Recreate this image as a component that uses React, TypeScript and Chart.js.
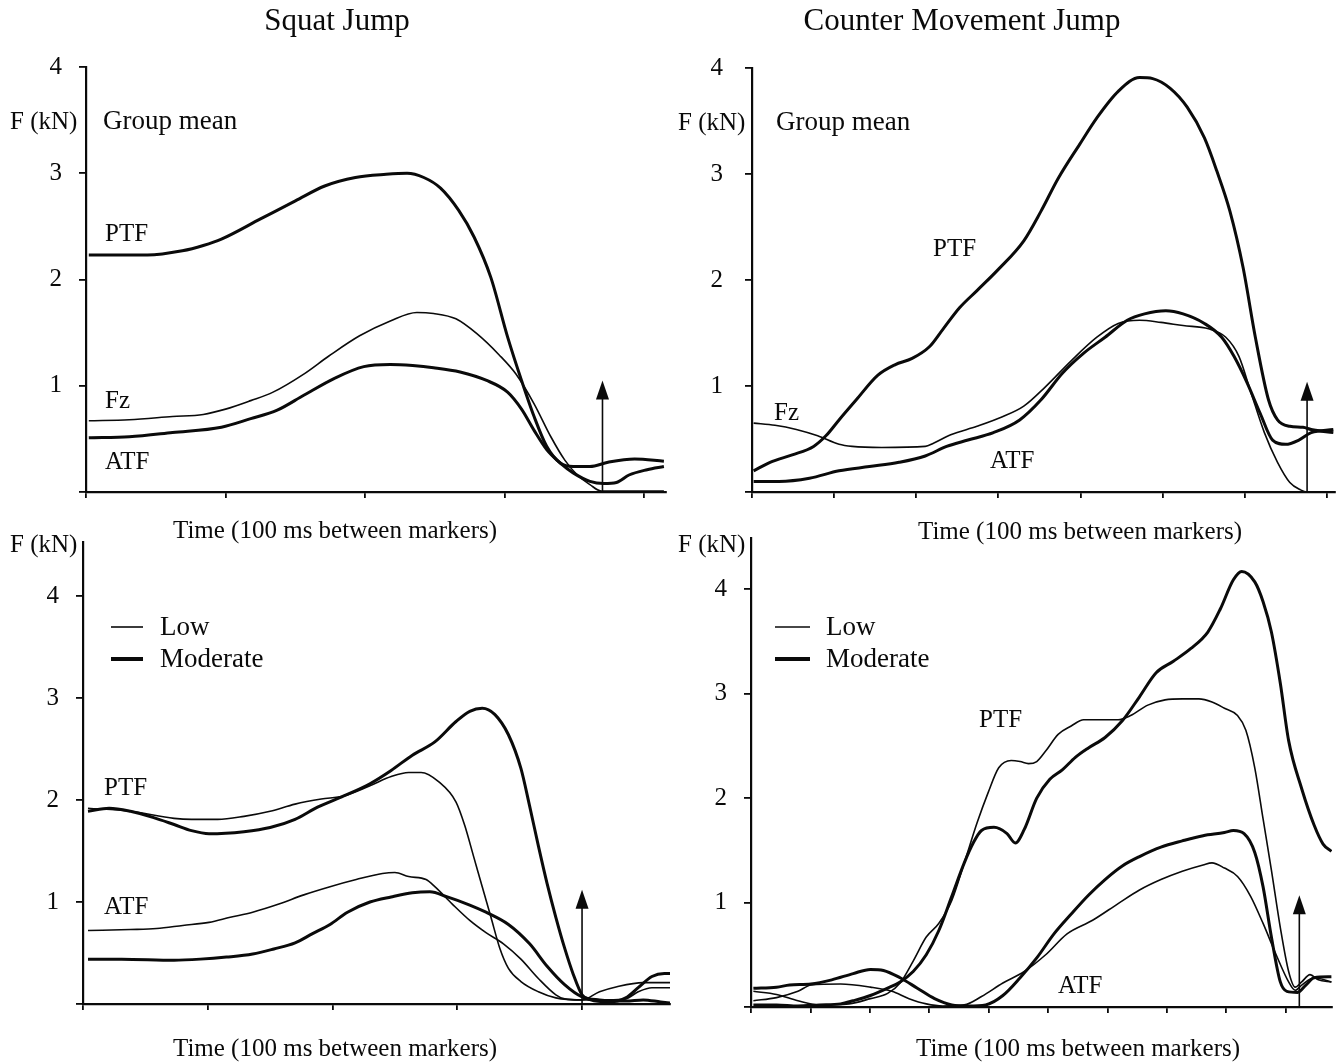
import { useEffect, useRef } from 'react';
import { Chart, registerables } from 'chart.js';

Chart.register(...registerables);

type Pt = [number, number];

// Time in marker units (100 ms each), force in kN.

// Squat jump – group mean
const sjMeanPTF: Pt[] = [[0.02,2.23],[0.44,2.23],[0.69,2.27],[0.84,2.32],[0.97,2.38],[1.25,2.57],[1.5,2.74],[1.71,2.88],[1.93,2.96],[2.15,2.99],[2.3,3.0],[2.42,2.96],[2.54,2.86],[2.67,2.65],[2.78,2.4],[2.9,2.02],[3.02,1.46],[3.12,1.05],[3.21,0.71],[3.3,0.43],[3.4,0.27],[3.49,0.24],[3.61,0.24],[3.74,0.28],[3.93,0.31],[4.14,0.29]];
const sjMeanFz: Pt[] = [[0.02,0.67],[0.31,0.68],[0.62,0.71],[0.84,0.73],[1.0,0.78],[1.18,0.86],[1.34,0.94],[1.56,1.11],[1.74,1.28],[1.96,1.47],[2.18,1.61],[2.37,1.69],[2.49,1.68],[2.65,1.63],[2.8,1.49],[2.96,1.29],[3.08,1.11],[3.21,0.83],[3.33,0.52],[3.43,0.3],[3.52,0.16],[3.61,0.07],[3.69,0.01],[4.14,0.01]];
const sjMeanATF: Pt[] = [[0.02,0.51],[0.31,0.52],[0.62,0.56],[0.97,0.61],[1.18,0.69],[1.37,0.77],[1.56,0.91],[1.78,1.07],[1.99,1.18],[2.18,1.2],[2.34,1.19],[2.49,1.17],[2.68,1.13],[2.87,1.05],[3.02,0.94],[3.12,0.78],[3.21,0.58],[3.3,0.4],[3.4,0.27],[3.49,0.18],[3.61,0.1],[3.71,0.08],[3.8,0.09],[3.89,0.16],[4.02,0.21],[4.14,0.24]];
const sjMeanTakeoff: Pt = [3.7, 1.05];

// Counter movement jump – group mean
const cmjMeanPTF: Pt[] = [[0.02,0.2],[0.22,0.28],[0.49,0.35],[0.75,0.43],[0.9,0.53],[1.06,0.68],[1.27,0.87],[1.53,1.1],[1.74,1.2],[1.95,1.26],[2.16,1.37],[2.32,1.53],[2.53,1.74],[2.74,1.9],[3.0,2.1],[3.31,2.37],[3.52,2.65],[3.73,2.96],[3.99,3.28],[4.2,3.53],[4.46,3.78],[4.72,3.91],[4.88,3.9],[5.09,3.81],[5.3,3.63],[5.51,3.34],[5.66,3.03],[5.82,2.65],[5.98,2.12],[6.13,1.46],[6.29,0.87],[6.4,0.68],[6.55,0.62],[6.71,0.61],[6.81,0.59],[7.08,0.56]];
const cmjMeanFz: Pt[] = [[0.02,0.65],[0.28,0.63],[0.54,0.59],[0.8,0.53],[1.06,0.45],[1.22,0.43],[1.58,0.42],[2.11,0.43],[2.21,0.46],[2.42,0.54],[2.74,0.62],[3.05,0.71],[3.31,0.81],[3.57,0.99],[3.89,1.24],[4.2,1.46],[4.46,1.59],[4.72,1.62],[4.98,1.6],[5.25,1.57],[5.56,1.54],[5.77,1.46],[5.93,1.28],[6.08,0.93],[6.24,0.56],[6.4,0.28],[6.55,0.09],[6.68,0.02],[6.76,0],[7.08,0]];
const cmjMeanATF: Pt[] = [[0.02,0.1],[0.33,0.1],[0.7,0.13],[1.06,0.2],[1.43,0.24],[1.79,0.28],[2.11,0.34],[2.37,0.43],[2.63,0.49],[2.94,0.56],[3.26,0.68],[3.52,0.87],[3.78,1.12],[4.04,1.31],[4.3,1.46],[4.57,1.62],[4.78,1.68],[5.04,1.71],[5.25,1.68],[5.51,1.59],[5.72,1.46],[5.87,1.28],[6.03,1.03],[6.19,0.74],[6.34,0.49],[6.5,0.45],[6.66,0.49],[6.81,0.56],[7.08,0.59]];
const cmjMeanTakeoff: Pt = [6.76, 1.04];

// Squat jump – low vs moderate groups
const sjLowPTF: Pt[] = [[0.04,1.92],[0.38,1.89],[0.73,1.82],[0.87,1.81],[1.08,1.81],[1.29,1.84],[1.5,1.89],[1.7,1.96],[1.91,2.01],[2.09,2.04],[2.3,2.14],[2.47,2.23],[2.61,2.27],[2.71,2.27],[2.85,2.18],[2.99,1.98],[3.06,1.75],[3.13,1.45],[3.2,1.15],[3.27,0.85],[3.34,0.55],[3.41,0.35],[3.51,0.22],[3.65,0.12],[3.79,0.06],[4.0,0.04],[4.14,0.12],[4.28,0.17],[4.49,0.21],[4.71,0.21]];
const sjModPTF: Pt[] = [[0.04,1.89],[0.21,1.92],[0.38,1.89],[0.56,1.83],[0.73,1.76],[0.87,1.7],[1.01,1.67],[1.29,1.69],[1.5,1.73],[1.7,1.81],[1.88,1.93],[2.09,2.04],[2.3,2.16],[2.47,2.29],[2.64,2.44],[2.82,2.57],[2.99,2.77],[3.1,2.87],[3.2,2.9],[3.3,2.84],[3.41,2.64],[3.51,2.31],[3.58,1.94],[3.65,1.55],[3.72,1.18],[3.79,0.85],[3.86,0.55],[3.93,0.29],[4.0,0.09],[4.07,0.04],[4.21,0.02],[4.35,0.06],[4.45,0.16],[4.56,0.27],[4.66,0.3],[4.71,0.3]];
const sjLowATF: Pt[] = [[0.04,0.72],[0.38,0.73],[0.59,0.74],[0.8,0.77],[1.01,0.8],[1.18,0.85],[1.36,0.9],[1.57,0.98],[1.77,1.07],[1.98,1.15],[2.19,1.22],[2.4,1.28],[2.5,1.29],[2.61,1.25],[2.75,1.22],[2.82,1.15],[2.96,0.98],[3.1,0.82],[3.23,0.7],[3.37,0.59],[3.51,0.44],[3.65,0.25],[3.79,0.09],[3.86,0.05],[4.0,0.04],[4.21,0.04],[4.35,0.05],[4.45,0.12],[4.56,0.16],[4.71,0.16]];
const sjModATF: Pt[] = [[0.04,0.44],[0.31,0.44],[0.73,0.43],[0.94,0.44],[1.15,0.46],[1.36,0.49],[1.53,0.54],[1.7,0.6],[1.84,0.69],[1.98,0.78],[2.12,0.9],[2.3,1.0],[2.47,1.05],[2.64,1.09],[2.78,1.1],[2.92,1.05],[3.1,0.97],[3.23,0.9],[3.41,0.78],[3.58,0.59],[3.72,0.37],[3.86,0.19],[4.0,0.07],[4.14,0.04],[4.35,0.03],[4.49,0.04],[4.63,0.02],[4.71,0.01]];
const sjGroupTakeoff: Pt = [4.0, 1.12];

// Counter movement jump – low vs moderate groups
const cmjLowPTF: Pt[] = [[0.04,0.15],[0.43,0.12],[0.79,0.06],[1.15,0.02],[1.65,0.03],[2.01,0.08],[2.3,0.13],[2.51,0.23],[2.73,0.44],[2.95,0.67],[3.16,0.8],[3.38,1.02],[3.59,1.38],[3.81,1.77],[3.99,2.05],[4.17,2.29],[4.38,2.36],[4.53,2.35],[4.67,2.33],[4.81,2.35],[4.96,2.45],[5.17,2.61],[5.39,2.69],[5.6,2.75],[6.18,2.75],[6.39,2.79],[6.68,2.89],[6.97,2.94],[7.26,2.95],[7.54,2.95],[7.76,2.92],[7.97,2.86],[8.19,2.79],[8.33,2.65],[8.48,2.29],[8.62,1.8],[8.76,1.31],[8.91,0.76],[9.05,0.34],[9.16,0.19],[9.27,0.24],[9.41,0.31],[9.55,0.26],[9.77,0.24]];
const cmjModPTF: Pt[] = [[0.04,0.02],[0.43,0.02],[0.79,0.01],[1.15,0.02],[1.51,0.03],[1.72,0.06],[2.01,0.11],[2.3,0.18],[2.51,0.24],[2.73,0.34],[2.95,0.5],[3.16,0.73],[3.38,1.06],[3.59,1.38],[3.74,1.57],[3.88,1.69],[4.09,1.72],[4.31,1.66],[4.45,1.57],[4.6,1.7],[4.81,2.0],[5.03,2.18],[5.24,2.27],[5.46,2.39],[5.68,2.48],[5.96,2.58],[6.25,2.74],[6.54,2.97],[6.82,3.2],[7.11,3.31],[7.4,3.43],[7.69,3.59],[7.9,3.81],[8.12,4.09],[8.26,4.17],[8.48,4.07],[8.62,3.88],[8.76,3.59],[8.91,3.1],[9.05,2.55],[9.27,2.09],[9.48,1.74],[9.63,1.56],[9.77,1.49]];
const cmjLowATF: Pt[] = [[0.04,0.06],[0.43,0.09],[0.79,0.15],[1.01,0.21],[1.51,0.22],[2.01,0.19],[2.37,0.15],[2.66,0.08],[2.95,0.03],[3.23,0.01],[3.59,0.02],[3.88,0.1],[4.24,0.23],[4.6,0.34],[4.96,0.5],[5.32,0.7],[5.75,0.83],[6.18,0.99],[6.54,1.12],[6.9,1.22],[7.26,1.3],[7.61,1.36],[7.76,1.38],[7.97,1.33],[8.19,1.25],[8.41,1.06],[8.62,0.8],[8.84,0.5],[9.05,0.24],[9.16,0.16],[9.27,0.21],[9.48,0.28],[9.77,0.24]];
const cmjModATF: Pt[] = [[0.04,0.18],[0.43,0.19],[0.65,0.21],[1.01,0.22],[1.36,0.26],[1.72,0.32],[2.01,0.36],[2.23,0.35],[2.51,0.28],[2.8,0.18],[3.09,0.08],[3.38,0.02],[3.66,0.01],[3.95,0.02],[4.24,0.11],[4.53,0.28],[4.81,0.47],[5.1,0.7],[5.39,0.89],[5.68,1.07],[5.96,1.22],[6.25,1.35],[6.54,1.44],[6.9,1.53],[7.26,1.59],[7.61,1.64],[7.97,1.67],[8.12,1.69],[8.3,1.66],[8.48,1.48],[8.62,1.15],[8.76,0.67],[8.91,0.24],[9.02,0.15],[9.2,0.14],[9.34,0.21],[9.48,0.28],[9.77,0.29]];
const cmjGroupTakeoff: Pt = [9.23, 1.07];

// Labelled force ticks
const yTickLabels = [1, 2, 3, 4];

const titles = ['Squat Jump', 'Counter Movement Jump'];
const xAxisTitle = 'Time (100 ms between markers)';
const yAxisTitle = 'F (kN)';
const legendNames = ['Low', 'Moderate'];

const PAGE_W = 1339;
const PAGE_H = 1063;
const FONT = '"Liberation Serif", "Times New Roman", Times, serif';
const INK = '#0a0a0a';
const THICK = 3.0;
const THIN = 1.6;

interface TextItem { text: string; x: number; y: number; size: number; align?: CanvasTextAlign }
interface Series { points: Pt[]; thick: boolean }
interface PanelSpec {
  id: string;
  box: { left: number; top: number; right: number; bottom: number };
  xMax: number;
  yMax: number;
  labelPad: number;
  series: Series[];
  takeoff: Pt;
  texts: TextItem[];
  legend?: { x0: number; x1: number; tx: number; yLow: number; yMod: number };
}

const panels: PanelSpec[] = [
  {
    id: 'sjMean',
    box: { left: 86, top: 67, right: 666, bottom: 492 },
    xMax: 4.155, yMax: 4, labelPad: 17,
    series: [
      { points: sjMeanPTF, thick: true },
      { points: sjMeanFz, thick: false },
      { points: sjMeanATF, thick: true },
    ],
    takeoff: sjMeanTakeoff,
    texts: [
      { text: titles[0], x: 337, y: 22, size: 31, align: 'center' },
      { text: yAxisTitle, x: 10, y: 122, size: 25 },
      { text: 'Group mean', x: 103, y: 122, size: 27 },
      { text: 'PTF', x: 105, y: 234, size: 25 },
      { text: 'Fz', x: 105, y: 401, size: 25 },
      { text: 'ATF', x: 105, y: 462, size: 25 },
      { text: xAxisTitle, x: 335, y: 531, size: 25, align: 'center' },
    ],
  },
  {
    id: 'cmjMean',
    box: { left: 752, top: 68, right: 1335, bottom: 492 },
    xMax: 7.1, yMax: 4, labelPad: 22,
    series: [
      { points: cmjMeanPTF, thick: true },
      { points: cmjMeanFz, thick: false },
      { points: cmjMeanATF, thick: true },
    ],
    takeoff: cmjMeanTakeoff,
    texts: [
      { text: titles[1], x: 962, y: 22, size: 31, align: 'center' },
      { text: yAxisTitle, x: 678, y: 123, size: 25 },
      { text: 'Group mean', x: 776, y: 123, size: 27 },
      { text: 'Fz', x: 774, y: 413, size: 25 },
      { text: 'PTF', x: 933, y: 249, size: 25 },
      { text: 'ATF', x: 990, y: 461, size: 25 },
      { text: xAxisTitle, x: 1080, y: 532, size: 25, align: 'center' },
    ],
  },
  {
    id: 'sjGroup',
    box: { left: 83, top: 542, right: 670, bottom: 1004 },
    xMax: 4.705, yMax: 4.53, labelPad: 17,
    series: [
      { points: sjLowPTF, thick: false },
      { points: sjModPTF, thick: true },
      { points: sjLowATF, thick: false },
      { points: sjModATF, thick: true },
    ],
    takeoff: sjGroupTakeoff,
    texts: [
      { text: yAxisTitle, x: 10, y: 545, size: 25 },
      { text: 'PTF', x: 104, y: 788, size: 25 },
      { text: 'ATF', x: 104, y: 907, size: 25 },
      { text: xAxisTitle, x: 335, y: 1049, size: 25, align: 'center' },
    ],
    legend: { x0: 111, x1: 143, tx: 160, yLow: 627, yMod: 659 },
  },
  {
    id: 'cmjGroup',
    box: { left: 751, top: 538, right: 1332, bottom: 1007 },
    xMax: 9.78, yMax: 4.49, labelPad: 17,
    series: [
      { points: cmjLowPTF, thick: false },
      { points: cmjModPTF, thick: true },
      { points: cmjLowATF, thick: false },
      { points: cmjModATF, thick: true },
    ],
    takeoff: cmjGroupTakeoff,
    texts: [
      { text: yAxisTitle, x: 678, y: 545, size: 25 },
      { text: 'PTF', x: 979, y: 720, size: 25 },
      { text: 'ATF', x: 1058, y: 986, size: 25 },
      { text: xAxisTitle, x: 1078, y: 1049, size: 25, align: 'center' },
    ],
    legend: { x0: 775, x1: 810, tx: 826, yLow: 627, yMod: 659 },
  },
];

// Draws the take-off arrow, the panel's text and the line legend.
function decorPlugin(spec: PanelSpec) {
  return {
    id: 'decor_' + spec.id,
    afterDatasetsDraw(chart: any) {
      const { ctx } = chart;
      const xs = chart.scales.x;
      const ys = chart.scales.y;
      ctx.save();
      ctx.strokeStyle = INK;
      ctx.fillStyle = INK;

      // take-off arrow
      const [t, top] = spec.takeoff;
      const px = xs.getPixelForValue(t);
      const yBase = ys.getPixelForValue(0);
      const yTip = ys.getPixelForValue(top);
      const headH = 19;
      const headW = 6.5;
      ctx.lineWidth = 1.6;
      ctx.beginPath();
      ctx.moveTo(px, yBase);
      ctx.lineTo(px, yTip + headH - 1);
      ctx.stroke();
      ctx.beginPath();
      ctx.moveTo(px, yTip);
      ctx.lineTo(px - headW, yTip + headH);
      ctx.lineTo(px + headW, yTip + headH);
      ctx.closePath();
      ctx.fill();

      // text
      ctx.textBaseline = 'middle';
      for (const item of spec.texts) {
        ctx.font = `${item.size}px ${FONT}`;
        ctx.textAlign = item.align || 'left';
        ctx.fillText(item.text, item.x, item.y);
      }

      // legend
      if (spec.legend) {
        const lg = spec.legend;
        ctx.font = `27px ${FONT}`;
        ctx.textAlign = 'left';
        ctx.lineWidth = THIN;
        ctx.beginPath();
        ctx.moveTo(lg.x0, lg.yLow);
        ctx.lineTo(lg.x1, lg.yLow);
        ctx.stroke();
        ctx.fillText(legendNames[0], lg.tx, lg.yLow + 1);
        ctx.lineWidth = 4;
        ctx.beginPath();
        ctx.moveTo(lg.x0, lg.yMod);
        ctx.lineTo(lg.x1, lg.yMod);
        ctx.stroke();
        ctx.fillText(legendNames[1], lg.tx, lg.yMod + 1);
      }
      ctx.restore();
    },
  };
}

function makeChart(canvas: HTMLCanvasElement, spec: PanelSpec) {
  const { box } = spec;
  const axisGrid = (len: number) => ({
    display: true,
    drawOnChartArea: false,
    drawTicks: true,
    tickLength: len,
    color: INK,
    lineWidth: 1.8,
  });
  const axisBorder = { display: true, color: INK, width: 2.2 };

  return new Chart(canvas, {
    type: 'line',
    data: {
      datasets: spec.series.map((s) => ({
        data: s.points.map(([x, y]) => ({ x, y })),
        borderColor: INK,
        borderWidth: s.thick ? THICK : THIN,
        pointRadius: 0,
        fill: false,
        cubicInterpolationMode: 'monotone' as const,
      })),
    },
    options: {
      responsive: false,
      animation: false,
      events: [],
      layout: { padding: { left: 0, top: box.top, right: PAGE_W - box.right, bottom: 0 } },
      plugins: { legend: { display: false }, tooltip: { enabled: false } },
      scales: {
        x: {
          type: 'linear',
          min: 0,
          max: spec.xMax,
          afterFit: (scale: any) => { scale.height = PAGE_H - box.bottom; },
          ticks: { display: false, stepSize: 1, includeBounds: false },
          grid: axisGrid(6),
          border: axisBorder,
        },
        y: {
          type: 'linear',
          min: 0,
          max: spec.yMax,
          afterFit: (scale: any) => { scale.width = box.left; },
          ticks: {
            stepSize: 1,
            includeBounds: false,
            padding: spec.labelPad,
            color: INK,
            font: { family: FONT, size: 25 },
            callback: (v: any) => (yTickLabels.includes(Number(v)) ? String(v) : ''),
          },
          grid: axisGrid(7),
          border: axisBorder,
        },
      },
    } as any,
    plugins: [decorPlugin(spec)],
  });
}

function Panel({ spec }: { spec: PanelSpec }) {
  const ref = useRef<HTMLCanvasElement | null>(null);
  useEffect(() => {
    if (!ref.current) return;
    const chart = makeChart(ref.current, spec);
    return () => chart.destroy();
  }, [spec]);
  return (
    <canvas
      ref={ref}
      width={PAGE_W}
      height={PAGE_H}
      style={{ position: 'absolute', left: 0, top: 0, width: PAGE_W, height: PAGE_H }}
    />
  );
}

export default function App() {
  return (
    <div
      style={{
        position: 'absolute',
        left: 0,
        top: 0,
        width: PAGE_W,
        height: PAGE_H,
        background: '#ffffff',
        overflow: 'hidden',
      }}
    >
      {panels.map((p) => (
        <Panel key={p.id} spec={p} />
      ))}
    </div>
  );
}
